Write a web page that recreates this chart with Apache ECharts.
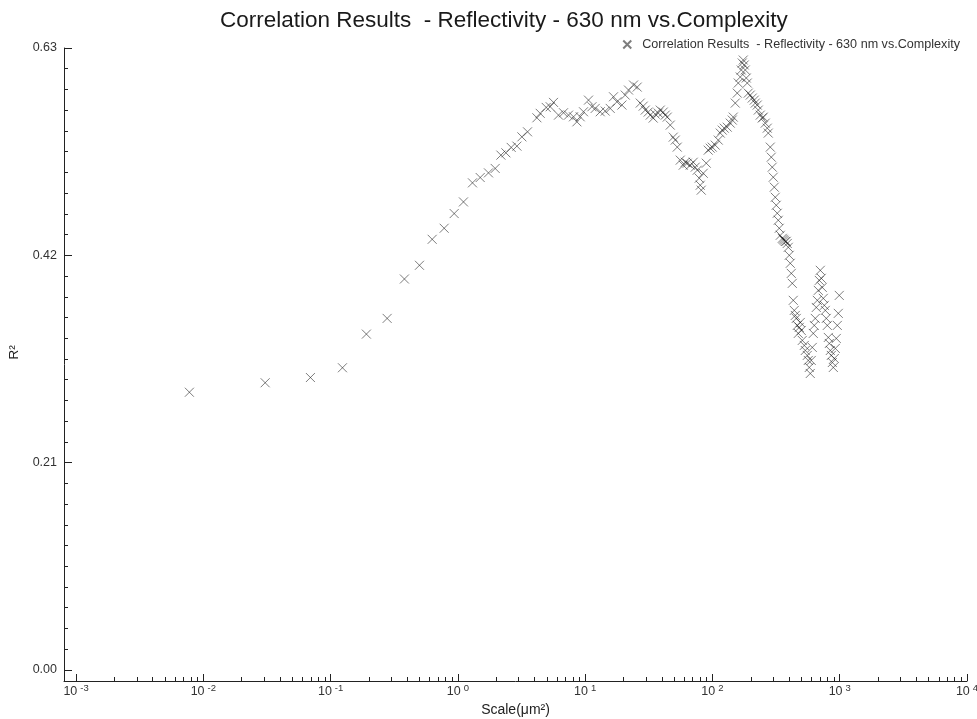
<!DOCTYPE html>
<html>
<head>
<meta charset="utf-8">
<script src="https://cdn.jsdelivr.net/npm/echarts@6/dist/echarts.min.js"></script>
<style>
  html, body { margin: 0; padding: 0; background: #ffffff; }
  #chart { width: 977px; height: 719px; }
</style>
</head>
<body>
<div id="chart"></div>
<script>
// Scale (µm²) of each analysis window
const scaleValues = [
  0.00777, 0.0306, 0.0694, 0.1239, 0.191, 0.278, 0.380, 0.499, 0.628, 0.780,
  0.935, 1.106, 1.302, 1.497, 1.739, 1.963, 2.177, 2.383, 2.623, 2.909,
  3.183, 3.524, 4.176, 4.434, 4.942, 5.313, 5.640, 6.173, 6.758, 7.398,
  8.098, 8.611, 9.142, 9.705, 10.62, 11.30, 11.99, 13.13, 14.37, 15.73,
  16.70, 17.76, 19.44, 20.64, 21.91, 23.99, 25.64, 27.08, 28.58, 29.64,
  31.29, 32.45, 34.24, 35.51, 37.50, 38.89, 41.06, 42.58, 44.15, 46.61,
  49.20, 51.02, 52.90, 55.85, 58.96, 61.13, 63.39, 66.91, 70.64, 73.25,
  75.95, 78.76, 80.2, 81.66, 84.68, 89.40, 92.69, 96.1, 99.6, 105.2,
  111.1, 115.2, 119.4, 123.8, 130.7, 138.0, 143.1, 145.7, 151.1, 156.6,
  159.5, 165.4, 168.4, 171.5, 174.6, 177.8, 181.1, 184.4, 187.7, 191.2,
  198.2, 205.5, 213.1, 217.0, 224.9, 229.1, 237.5, 246.3, 250.8, 260.0,
  269.6, 274.5, 284.7, 289.9, 295.1, 300.5, 306.0, 311.6, 317.3, 323.1,
  328.9, 335.0, 341.2, 353.7, 360.0, 366.7, 373.0, 380.2, 387.0, 394.2,
  401.4, 408.8, 416.3, 423.9, 431.5, 439.6, 447.6, 455.8, 464.1, 472.5,
  481.0, 489.8, 498.8, 507.9, 526.6, 536.2, 555.9, 566.1, 576.4, 587.0,
  597.6, 608.6, 619.7, 631.0, 642.6, 654.4, 666.4, 678.5, 691.0, 703.6,
  716.5, 729.6, 743.0, 756.6, 770.4, 784.5, 798.9, 813.5, 828.4, 843.5,
  858.9, 874.7, 890.6, 906.9, 923.5, 939.7, 957.3, 974.3, 992.0
];

// Coefficient of determination at each scale
const r2Values = [
  0.2813, 0.2909, 0.2962, 0.3061, 0.3402, 0.3561, 0.3960, 0.4099, 0.4362, 0.4474,
  0.4623, 0.4741, 0.4934, 0.4988, 0.5035, 0.5080, 0.5215, 0.5238, 0.5293, 0.5306,
  0.5400, 0.5451, 0.5593, 0.5638, 0.5698, 0.5705, 0.5749, 0.5620, 0.5644, 0.5620,
  0.5603, 0.5552, 0.5603, 0.5654, 0.5772, 0.5705, 0.5688, 0.5654, 0.5661, 0.5688,
  0.5806, 0.5755, 0.5722, 0.5823, 0.5874, 0.5925, 0.5904, 0.5742, 0.5711, 0.5671,
  0.5651, 0.5620, 0.5590, 0.5630, 0.5641, 0.5671, 0.5651, 0.5620, 0.5600, 0.5519,
  0.5397, 0.5367, 0.5296, 0.5164, 0.5113, 0.5143, 0.5133, 0.5113, 0.5143, 0.5093,
  0.5062, 0.4981, 0.4910, 0.4860, 0.5031, 0.5133, 0.5265, 0.5285, 0.5296, 0.5316,
  0.5367, 0.5438, 0.5468, 0.5488, 0.5498, 0.5539, 0.5570, 0.5600, 0.5742, 0.5843,
  0.5945, 0.6006, 0.6077, 0.6148, 0.6178, 0.6128, 0.6077, 0.5996, 0.5945, 0.5843,
  0.5823, 0.5793, 0.5772, 0.5742, 0.5722, 0.5671, 0.5620, 0.5590, 0.5600, 0.5539,
  0.5488, 0.5438, 0.5296, 0.5194, 0.5093, 0.4991, 0.4890, 0.4788, 0.4707, 0.4626,
  0.4555, 0.4474, 0.4403, 0.4372, 0.4362, 0.4352, 0.4340, 0.4342, 0.4320, 0.4281,
  0.4200, 0.4119, 0.4017, 0.3916, 0.3744, 0.3642, 0.3591, 0.3561, 0.3490, 0.3409,
  0.3470, 0.3520, 0.3439, 0.3338, 0.3287, 0.3236, 0.3186, 0.3135, 0.3064, 0.3003,
  0.3135, 0.3267, 0.3409, 0.3490, 0.3561, 0.3672, 0.3744, 0.3845, 0.3946, 0.4048,
  0.3967, 0.3875, 0.3764, 0.3693, 0.3642, 0.3561, 0.3490, 0.3368, 0.3307, 0.3236,
  0.3186, 0.3114, 0.3064, 0.3155, 0.3257, 0.3358, 0.3490, 0.3612, 0.3794
];

const seriesName = 'Correlation Results  - Reflectivity - 630 nm vs.Complexity';
const titleText = 'Correlation Results  - Reflectivity - 630 nm vs.Complexity';
const xAxisTitle = 'Scale(μm²)';
const yAxisTitle = 'R²';

// Decade labels on the scale axis and labelled values on the R² axis
const xTickValues = [0.001, 0.01, 0.1, 1, 10, 100, 1000, 10000];
const yTickValues = [0, 0.21, 0.42, 0.63];

// Minor ticks: 2..9 within each decade, and tenths of the R² step
const xMinorTicks = [];
xTickValues.slice(0, -1).forEach(function (d) {
  for (let k = 2; k <= 9; k++) xMinorTicks.push(+(d * k).toPrecision(3));
});
const yMinorTicks = [];
for (let k = 1; k < 30; k++) {
  if (k % 10 !== 0) yMinorTicks.push(+(k * 0.021).toFixed(3));
}

const xMin = 0.000804;
const xMax = 10000;
const yMin = -0.0112;
const yMax = 0.63;

const fontFamily = '"Liberation Sans", Arial, sans-serif';
const axisColor = '#222';
const crossPath = 'path://M0,0L10,10M10,0L0,10';

function decadeLabel(v) {
  const e = Math.round(Math.log10(v));
  if (Math.abs(Math.log10(v) - e) > 1e-6) return '';
  return '{b|10}{s|' + e + '}';
}

const chart = echarts.init(document.getElementById('chart'), null, { renderer: 'canvas' });

chart.setOption({
  backgroundColor: '#ffffff',
  animation: false,
  textStyle: { fontFamily: fontFamily },
  title: {
    text: titleText,
    left: 215,
    top: 4,
    textStyle: { fontSize: 22.5, fontWeight: 'normal', color: '#1a1a1a', fontFamily: fontFamily }
  },
  legend: {
    data: [seriesName],
    right: 12,
    top: 33,
    itemWidth: 20,
    itemHeight: 8,
    itemGap: 0,
    textStyle: { fontSize: 12.6, color: '#333', fontFamily: fontFamily }
  },
  grid: { left: 64, right: 10, top: 48, bottom: 38, containLabel: false, outerBoundsMode: 'none' },
  xAxis: [
    {
      type: 'log',
      logBase: 10,
      min: xMin,
      max: xMax,
      name: xAxisTitle,
      nameLocation: 'middle',
      nameGap: 19,
      nameTextStyle: { fontSize: 14, color: '#222' },
      axisLine: { show: true, onZero: false, lineStyle: { color: axisColor, width: 1 } },
      axisTick: { show: true, inside: true, length: 7, customValues: xTickValues, lineStyle: { color: axisColor } },
      axisLabel: {
        show: true,
        customValues: xTickValues,
        margin: 2,
        formatter: decadeLabel,
        rich: {
          b: { fontSize: 12.5, color: '#333', fontFamily: fontFamily, padding: [2, 0, 0, 0] },
          s: { fontSize: 9.5, color: '#333', fontFamily: fontFamily, verticalAlign: 'top', padding: [0, 0, 0, 3] }
        }
      },
      splitLine: { show: false },
      minorTick: { show: false }
    },
    {
      type: 'log',
      logBase: 10,
      min: xMin,
      max: xMax,
      position: 'bottom',
      offset: 0,
      axisLine: { show: false, onZero: false },
      axisTick: { show: true, inside: true, length: 4, customValues: xMinorTicks, lineStyle: { color: axisColor } },
      axisLabel: { show: false },
      splitLine: { show: false }
    }
  ],
  yAxis: [
    {
      type: 'value',
      min: yMin,
      max: yMax,
      name: yAxisTitle,
      nameLocation: 'middle',
      nameGap: 42,
      nameRotate: 90,
      nameTextStyle: { fontSize: 13.5, color: '#222', padding: [0, 0, 0, 24] },
      axisLine: { show: true, onZero: false, lineStyle: { color: axisColor, width: 1 } },
      axisTick: { show: true, inside: true, length: 8, customValues: yTickValues, lineStyle: { color: axisColor } },
      axisLabel: {
        show: true,
        customValues: yTickValues,
        margin: 7,
        fontSize: 12.5,
        color: '#333',
        formatter: function (v) { return v.toFixed(2); }
      },
      splitLine: { show: false }
    },
    {
      type: 'value',
      min: yMin,
      max: yMax,
      position: 'left',
      offset: 0,
      axisLine: { show: false, onZero: false },
      axisTick: { show: true, inside: true, length: 4, customValues: yMinorTicks, lineStyle: { color: axisColor } },
      axisLabel: { show: false },
      splitLine: { show: false }
    }
  ],
  series: [
    {
      name: seriesName,
      type: 'scatter',
      xAxisIndex: 0,
      yAxisIndex: 0,
      symbol: crossPath,
      symbolSize: 9,
      data: scaleValues.map(function (s, i) { return [s, r2Values[i]]; }),
      itemStyle: {
        color: 'rgba(0,0,0,0)',
        borderColor: 'rgba(30,30,30,0.72)',
        borderWidth: 1
      },
      emphasis: { disabled: true }
    }
  ]
});
</script>
</body>
</html>
